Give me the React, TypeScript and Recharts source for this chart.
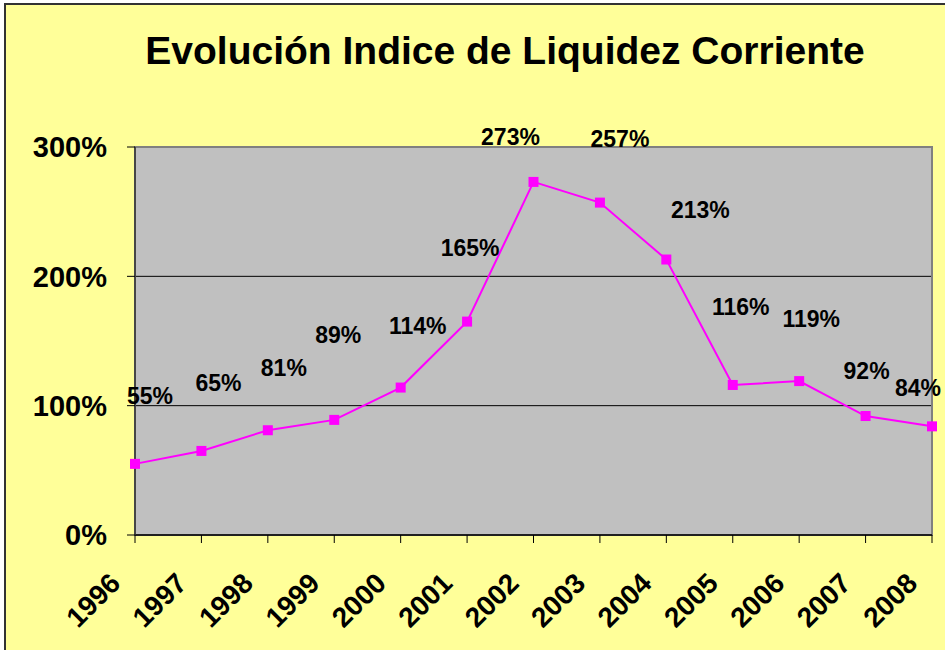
import {
  LineChart,
  Line,
  XAxis,
  YAxis,
  CartesianGrid,
  ReferenceArea,
  LabelList,
} from "recharts";

const years = ["1996", "1997", "1998", "1999", "2000", "2001", "2002", "2003", "2004", "2005", "2006", "2007", "2008"];
const liquidez = [55, 65, 81, 89, 114, 165, 273, 257, 213, 116, 119, 92, 84];
const yTicks = [0, 100, 200, 300];

// hand-placed data labels in the original: [dx, dy] from each point
const labelOffsets = [
  [15, -68], [17, -68], [16, -62], [4, -85], [17, -62], [3, -74], [-23, -45],
  [20, -64], [34, -50], [8, -78], [12, -62], [1, -45], [-14, -38],
];

const data = years.map((year, i) => ({ year, liquidez: liquidez[i] }));

const FONT = "'Liberation Sans', Arial, sans-serif";

const SquareDot = (props: any) => {
  const { cx, cy, index } = props;
  if (cx == null || cy == null) return null;
  return <rect key={index} x={cx - 5} y={cy - 5} width={10} height={10} fill="#FF00FF" />;
};

const PointLabel = (props: any) => {
  const { x, y, value, index } = props;
  const [dx, dy] = labelOffsets[index] ?? [12, -65];
  return (
    <text
      x={x + dx}
      y={y + dy + 8}
      textAnchor="middle"
      fontFamily={FONT}
      fontWeight="bold"
      fontSize={23}
      fill="#000"
    >
      {value}%
    </text>
  );
};

const YearTick = (props: any) => {
  const { x, y, payload } = props;
  const ax = x - 13;
  const ay = y + 40;
  return (
    <text
      x={ax}
      y={ay}
      transform={`rotate(-45, ${ax}, ${ay})`}
      textAnchor="end"
      fontFamily={FONT}
      fontWeight="bold"
      fontSize={28}
      fill="#000"
    >
      {payload.value}
    </text>
  );
};

export default function App() {
  return (
    <div
      style={{
        position: "absolute",
        left: 0,
        top: 0,
        width: 945,
        height: 650,
        overflow: "hidden",
        background: "#fff",
      }}
    >
      <div
        style={{
          position: "absolute",
          left: 4,
          top: 3,
          width: 980,
          height: 680,
          background: "#FFFF99",
          border: "2px solid #333",
        }}
      />
      <div
        style={{
          position: "absolute",
          left: 505,
          top: 31,
          transform: "translateX(-50%)",
          whiteSpace: "nowrap",
          fontFamily: FONT,
          fontWeight: "bold",
          fontSize: 39,
          lineHeight: "39px",
          color: "#000",
        }}
      >
        Evolución Indice de Liquidez Corriente
      </div>
      <div style={{ position: "absolute", left: 0, top: 0 }}>
        <LineChart
          width={945}
          height={650}
          data={data}
          margin={{ top: 147, right: 13, left: 0, bottom: 0 }}
        >
          <CartesianGrid
            vertical={false}
            fill="#C0C0C0"
            fillOpacity={1}
            stroke="#000"
            strokeWidth={1}
          />
          <ReferenceArea
            x1="1996"
            x2="2008"
            y1={0}
            y2={300}
            fill="none"
            stroke="#808080"
            strokeWidth={2}
          />
          <XAxis
            dataKey="year"
            interval={0}
            height={115}
            padding={{ left: 0, right: 0 }}
            tickSize={8}
            axisLine={{ stroke: "#000", strokeWidth: 1.5 }}
            tickLine={{ stroke: "#000" }}
            tick={<YearTick />}
          />
          <YAxis
            width={135}
            domain={[0, 300]}
            ticks={yTicks}
            tickSize={8}
            tickMargin={20}
            tickFormatter={(v: number) => `${v}%`}
            axisLine={{ stroke: "#333", strokeWidth: 1.5 }}
            tickLine={{ stroke: "#000" }}
            tick={{ fill: "#000", fontSize: 29, fontWeight: "bold", fontFamily: FONT }}
          />
          <Line
            type="linear"
            dataKey="liquidez"
            stroke="#FF00FF"
            strokeWidth={2}
            dot={<SquareDot />}
            activeDot={false}
            isAnimationActive={false}
          >
            <LabelList dataKey="liquidez" content={<PointLabel />} />
          </Line>
        </LineChart>
      </div>
    </div>
  );
}
